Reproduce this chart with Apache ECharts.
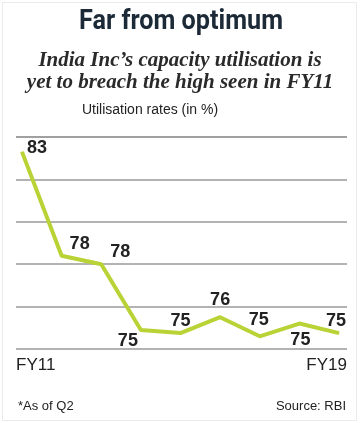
<!DOCTYPE html>
<html><head><meta charset="utf-8">
<script src="https://cdn.jsdelivr.net/npm/echarts@6/dist/echarts.min.js"></script>
<style>html,body{margin:0;padding:0;background:#fff}#c{width:360px;height:423px}</style>
</head><body><div id="c"></div>
<script>
const categories = ['FY11','FY12','FY13','FY14','FY15','FY16','FY17','FY18','FY19'];
const values = [83.3, 78.4, 78.0, 74.9, 74.75, 75.5, 74.6, 75.2, 74.75];
const labelTexts = ['83','78','78','75','75','76','75','75','75'];
const yTicks = [74, 76, 78, 80, 82, 84];

const labelOffsets = [[15,-4],[18,-12],[19,-12],[-13,11],[0,-12],[0,-17],[-1,-16],[1,16],[-3,-12]];

const chart = echarts.init(document.getElementById('c'));
const yMin = yTicks[0], yMax = yTicks[yTicks.length-1], yInt = yTicks[1]-yTicks[0];
const gridLineStyle = {color: '#9a9a9a', width: 1.5, type: 'solid'};
chart.setOption({
  animation: false,
  backgroundColor: '#fff',
  title: [
    {text: 'India Inc\u2019s capacity utilisation is\nyet to breach the high seen in FY11', left: 'center', top: 45,
     textStyle: {fontFamily: 'Liberation Serif', fontStyle: 'italic', fontWeight: 'bold', fontSize: 21, lineHeight: 22, color: '#2a2a2a'}},
    {text: 'Utilisation rates (in %)', left: 77, top: 98,
     textStyle: {fontFamily: 'Liberation Sans', fontWeight: 'normal', fontSize: 14, color: '#222'}},
    {text: '*As of Q2', left: 13, top: 395,
     textStyle: {fontFamily: 'Liberation Sans', fontWeight: 'normal', fontSize: 13, color: '#222'}},
    {text: 'Source: RBI', right: 9, top: 395,
     textStyle: {fontFamily: 'Liberation Sans', fontWeight: 'normal', fontSize: 13, color: '#222'}}
  ],
  graphic: [
    {type: 'rect', shape: {x: 2.5, y: 2.5, width: 354, height: 418}, style: {fill: 'none', stroke: '#ebebeb', lineWidth: 1}, silent: true},
    {type: 'text', x: 181, y: 22, scaleX: 0.9, silent: true,
     style: {text: 'Far from optimum', font: 'bold 28px Roboto', fill: '#1c2a38', textAlign: 'center', textVerticalAlign: 'middle'}}
  ],
  grid: [
    {left: 16, right: 13, top: 137, bottom: 74},
    {left: 22, right: 21, top: 137, bottom: 74}
  ],
  xAxis: [
    {type: 'category', gridIndex: 0, data: categories, boundaryGap: false,
     axisLine: {show: false}, axisTick: {show: false},
     axisLabel: {interval: 0, margin: 8, alignMinLabel: 'left', alignMaxLabel: 'right',
       fontFamily: 'Liberation Sans', fontSize: 17, color: '#222',
       formatter: (v, i) => (i === 0 || i === categories.length - 1) ? v : ''}},
    {type: 'category', gridIndex: 1, data: categories, boundaryGap: false, show: false}
  ],
  yAxis: [
    {type: 'value', gridIndex: 0, min: yMin, max: yMax, interval: yInt,
     axisLine: {show: false}, axisTick: {show: false}, axisLabel: {show: false},
     splitLine: {show: true, lineStyle: gridLineStyle}},
    {type: 'value', gridIndex: 1, min: yMin, max: yMax, interval: yInt, show: false, splitLine: {show: false}}
  ],
  series: [{
    type: 'line', xAxisIndex: 0, yAxisIndex: 0, data: [], silent: true, z: 1,
    markLine: {silent: true, symbol: 'none', label: {show: false}, lineStyle: gridLineStyle,
      data: [{yAxis: yMax}]}
  }, {
    type: 'line', xAxisIndex: 1, yAxisIndex: 1,
    data: values.map((v, i) => ({
      value: v,
      label: {show: true, position: 'inside', offset: labelOffsets[i], formatter: labelTexts[i]}
    })),
    symbol: 'circle', symbolSize: 1, showSymbol: true,
    itemStyle: {color: '#b9d336'},
    lineStyle: {color: '#b9d336', width: 4},
    label: {show: true, fontFamily: 'Liberation Sans', fontWeight: 'bold', fontSize: 18, color: '#222'},
    z: 5
  }]
});
</script></body></html>
